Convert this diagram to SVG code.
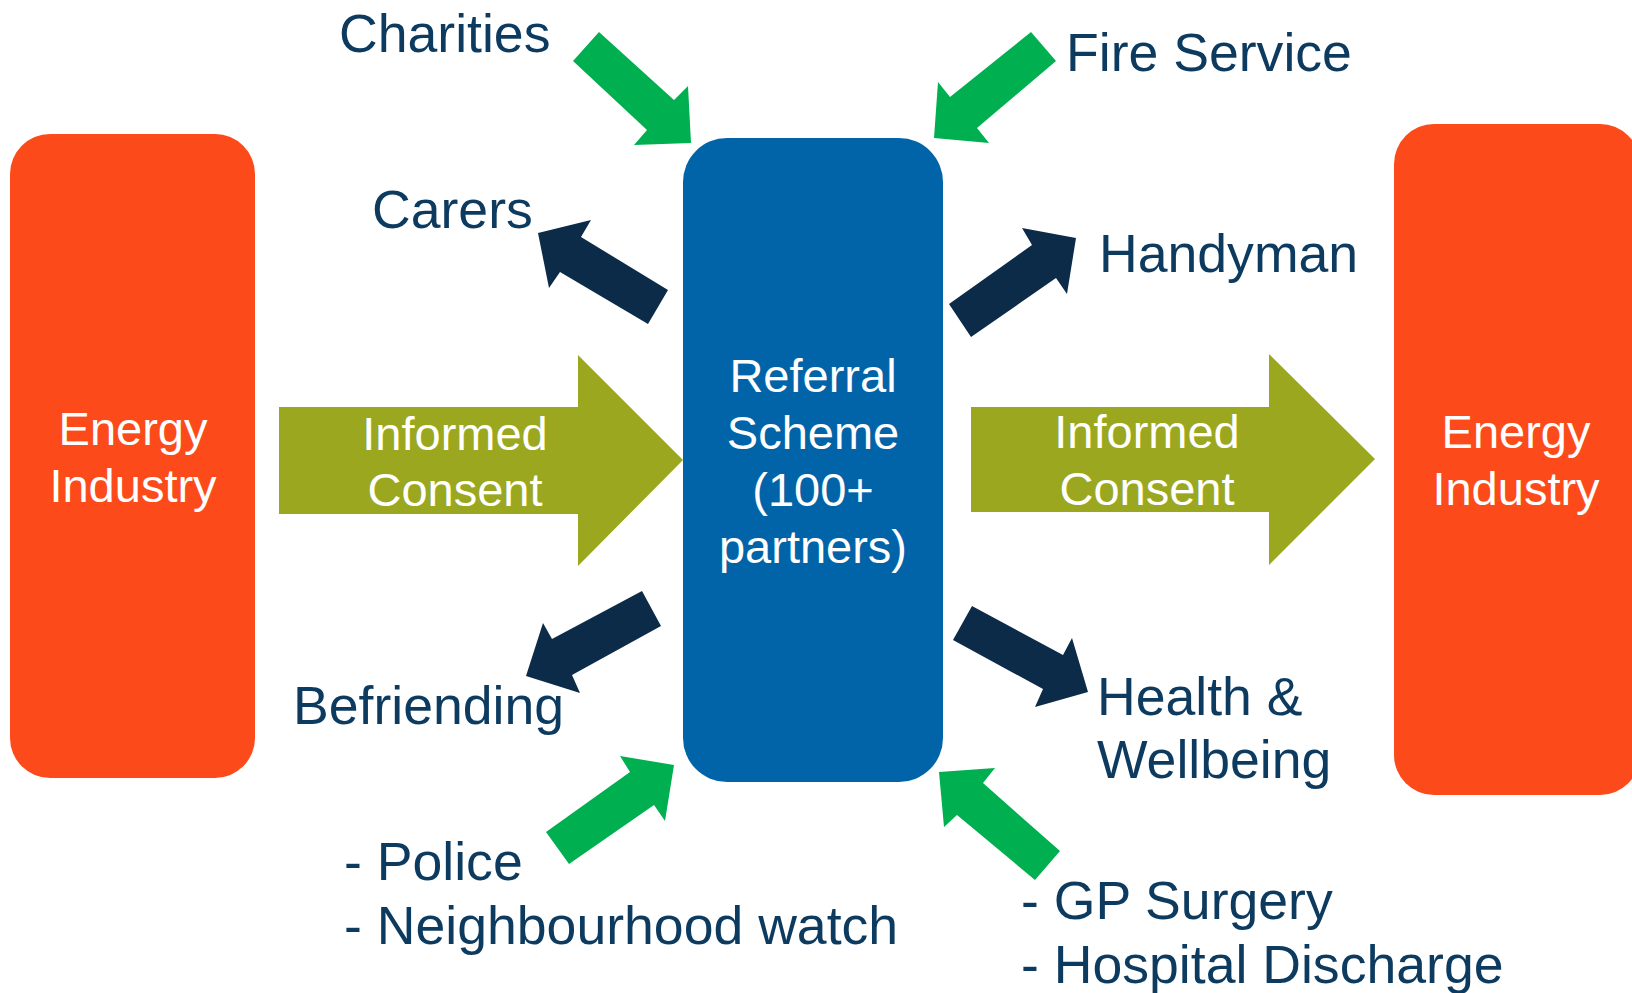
<svg xmlns="http://www.w3.org/2000/svg" width="1632" height="993" viewBox="0 0 1632 993">
  <style>
    .label { font-family: "Liberation Sans", Arial, sans-serif; font-size: 53.6px; fill: #0d3a5f; }
    .inner { font-family: "Liberation Sans", Arial, sans-serif; font-size: 47px; fill: #ffffff; text-anchor: middle; }
    .industry { fill: #fc4a1a; }
    .scheme { fill: #0264a8; }
    .consent { fill: #9ba81f; }
    .inflow { fill: #00b050; }
    .outflow { fill: #0b2b48; }
  </style>
  <rect width="1632" height="993" fill="#ffffff"/>

  <!-- Side boxes -->
  <g id="energy-left">
    <rect class="industry" x="10" y="134" width="245" height="644" rx="40" ry="40"/>
    <text class="inner" x="133" y="445">Energy</text>
    <text class="inner" x="133" y="502">Industry</text>
  </g>
  <g id="energy-right">
    <rect class="industry" x="1394" y="124" width="246" height="671" rx="40" ry="40"/>
    <text class="inner" x="1516" y="448">Energy</text>
    <text class="inner" x="1516" y="505">Industry</text>
  </g>

  <!-- Central hub -->
  <g id="referral-scheme">
    <rect class="scheme" x="683" y="138" width="260" height="644" rx="44" ry="44"/>
    <text class="inner" x="813" y="392">Referral</text>
    <text class="inner" x="813" y="449">Scheme</text>
    <text class="inner" x="813" y="506">(100+</text>
    <text class="inner" x="813" y="563">partners)</text>
  </g>

  <!-- Labels -->
  <g id="charities"><text class="label" x="339" y="52">Charities</text></g>
  <g id="fire-service"><text class="label" x="1066" y="71">Fire Service</text></g>
  <g id="carers"><text class="label" x="372" y="228">Carers</text></g>
  <g id="handyman"><text class="label" x="1099" y="272">Handyman</text></g>
  <g id="befriending"><text class="label" x="293" y="724">Befriending</text></g>
  <g id="health">
    <text class="label" x="1097" y="715">Health &amp;</text>
    <text class="label" x="1097" y="778">Wellbeing</text>
  </g>
  <g id="police">
    <text class="label" x="344" y="880">- Police</text>
    <text class="label" x="344" y="944">- Neighbourhood watch</text>
  </g>
  <g id="gp">
    <text class="label" x="1021" y="919">- GP Surgery</text>
    <text class="label" x="1021" y="983">- Hospital Discharge</text>
  </g>

  <!-- Connectors -->
  <g id="connectors">
    <!-- informed consent flows -->
    <g id="consent-left">
      <polygon class="consent" points="279,407 578,407 578,355 683,460 578,566 578,514 279,514"/>
      <text class="inner" x="455" y="450">Informed</text>
      <text class="inner" x="455" y="506">Consent</text>
    </g>
    <g id="consent-right">
      <polygon class="consent" points="971,407 1269,407 1269,354 1375,459 1269,565 1269,512 971,512"/>
      <text class="inner" x="1147" y="448">Informed</text>
      <text class="inner" x="1147" y="505">Consent</text>
    </g>

    <!-- referrals coming in -->
    <polygon class="inflow" points="599,32 674,100 688,86 691,143 634,145 647,130 573,61"/>
    <polygon class="inflow" points="1031,32 1056,61 977,128 989,143 934,138 938,82 950,97"/>
    <polygon class="inflow" points="546,832 630,772 620,756 674,765 665,821 654,805 569,864"/>
    <polygon class="inflow" points="1060,851 983,783 995,768 939,772 944,827 957,815 1035,880"/>

    <!-- services going out -->
    <polygon class="outflow" points="668,290 581,237 591,220 538,233 549,288 560,272 648,324"/>
    <polygon class="outflow" points="949,304 1032,245 1022,228 1076,238 1067,294 1056,278 971,337"/>
    <polygon class="outflow" points="642,591 552,639 543,623 526,676 580,693 572,675 661,626"/>
    <polygon class="outflow" points="972,606 1063,655 1072,638 1088,692 1035,707 1043,689 953,640"/>
  </g>
</svg>
